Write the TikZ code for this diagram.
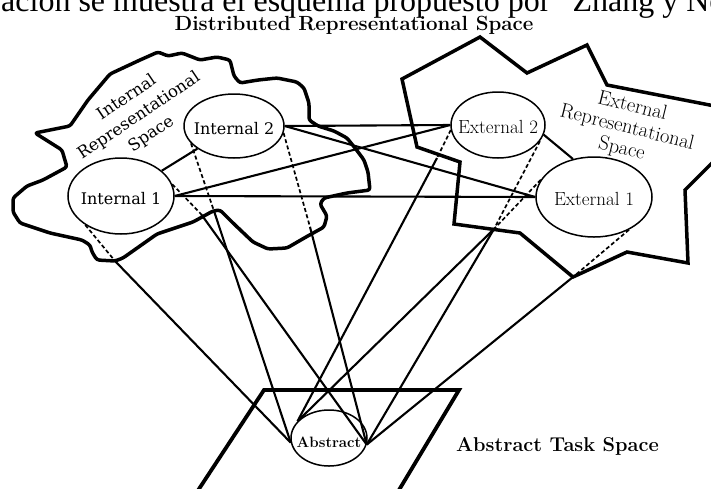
\documentclass[tikz,border=0pt]{standalone}
\usepackage{fontspec}
\newfontfamily\slabfont{DejaVu Serif}
\newfontfamily\timesfont{Liberation Serif}
\usetikzlibrary{shapes.geometric}
\begin{document}
\begin{tikzpicture}[x=1pt,y=-1pt,
  ell/.style={draw, ellipse, fill=white, inner sep=0pt, line width=1.5pt},
  conn/.style={line width=2.1pt},
  dsh/.style={line width=1.7pt, dash pattern=on 4pt off 2.5pt},
  region/.style={line width=3.5pt, line join=round},
  intfont/.style={font=\slabfont\fontsize{16}{16}\selectfont},
  extfont/.style={font=\fontsize{19}{19}\selectfont}]
\useasboundingbox (0,0) rectangle (711,488);

% top cut text line and title
\node[font=\timesfont\fontsize{32}{32}\selectfont, anchor=base west, inner sep=0pt] (topline) at (1,11) {ación se muestra el esquema propuesto por “Zhang y No};
\node[font=\fontsize{20.5}{20.5}\selectfont\bfseries, anchor=base, inner sep=0pt] (title) at (354,30) {Distributed Representational Space};

% internal representational space (blob)
\draw[region, rounded corners=2.5pt] (35,133) -- (70,126) -- (88,100) -- (110,74) -- (140,60) -- (158,52) -- (168,56) -- (182,53) -- (200,60) -- (217,57) -- (230,60) -- (234,76) -- (240,83) -- (258,80) -- (277,78) -- (297,82) -- (304,88) -- (309,103) -- (309,120) -- (318,126) -- (334,131) -- (347,138) -- (355,148) -- (364,160) -- (368,172) -- (370,190) -- (347,193) -- (324,198) -- (320,204) -- (327,216) -- (324,227) -- (306,237) -- (287,248) -- (268,249) -- (253,242) -- (233,223) -- (220,210) -- (213,211) -- (193,222) -- (157,234) -- (123,258) -- (115,261) -- (97,260) -- (92,252) -- (90,245) -- (82,240) -- (50,233) -- (20,223) -- (13,212) -- (13,198) -- (27,186) -- (43,180) -- (67,167) -- (64,157) -- (62,150) -- cycle;

% external representational space (star polygon)
\draw[region, line join=miter] (402,79) -- (480,37) -- (527,73) -- (587,45) -- (607,85) -- (725,108) -- (725,150) -- (685,190) -- (688,263) -- (627,252) -- (573,277) -- (520,233) -- (454,224) -- (460,162) -- (417,147) -- cycle;

% abstract task space (parallelogram)
\draw[line width=3.8pt, line join=miter] (195,495) -- (264,390) -- (459,390) -- (396,495);

% ellipses
\node[ell, minimum width=106pt, minimum height=76pt] (int1) at (121,196) {};
\node[ell, minimum width=100pt, minimum height=64pt] (int2) at (234,126) {};
\node[ell, minimum width=94pt, minimum height=66pt] (ext2) at (498,125) {};
\node[ell, minimum width=116pt, minimum height=80pt] (ext1) at (594,197) {};
\node[ell, minimum width=76pt, minimum height=56pt] (abs) at (329,438) {};

% projection points
\coordinate (p1) at (115,261);
\coordinate (pA) at (201,214);
\coordinate (pB) at (214,211);
\coordinate (pC) at (310,227);
\coordinate (pD) at (437,158);
\coordinate (pE) at (494,229);
\coordinate (pF) at (573,277);

% links between representations
\draw[conn] (int1) -- (int2);
\draw[conn] (int2.east) -- (ext2.west);
\draw[conn] (int2.east) -- (ext1.west);
\draw[conn] (int1.east) -- (ext2.west);
\draw[conn] (int1.east) -- (ext1.west);
\draw[conn] (ext2.348) -- (ext1.119);

% dashed projections
\draw[dsh] (int1.219) -- (p1);
\draw[dsh] (int1.13) -- (pA);
\draw[dsh] (int2.202) -- (pB);
\draw[dsh] (int2.352) -- (pC);
\draw[dsh] (ext2.186) -- (pD);
\draw[dsh] (ext2.339) -- (pE);
\draw[dsh] (ext1.162) -- (pE);
\draw[dsh] (ext1.317) -- (pF);

% lines to abstract
\draw[conn] (p1) -- (abs.187);
\draw[conn] (pA) -- (abs.350);
\draw[conn] (pB) -- (abs.187);
\draw[conn] (pC) -- (abs.350);
\draw[conn] (pD) -- (abs.152);
\draw[conn] (pE) -- (abs.152);
\draw[conn] (pE) -- (abs.350);
\draw[conn] (pF) -- (abs.350);

% texts
\node[intfont] (int1t) at ([yshift=-3pt]int1.center) {Internal 1};
\node[intfont] (int2t) at ([yshift=-3pt]int2.center) {Internal 2};
\node[extfont] (ext2t) at ([yshift=-2pt]ext2.center) {External 2};
\node[extfont] (ext1t) at ([yshift=-2pt]ext1.center) {External 1};
\node[font=\fontsize{15}{15}\selectfont\bfseries] (abst) at ([yshift=-4pt]abs.center) {Abstract};
\node[font=\slabfont\fontsize{16.5}{22}\selectfont, align=center, rotate=34] (intlbl) at (139,116) {Internal\\Representational\\Space};
\node[font=\fontsize{20.5}{22}\selectfont, align=center, rotate=-14] (extlbl) at (627,128) {External\\Representational\\Space};
\node[font=\fontsize{20}{20}\selectfont\bfseries, anchor=base west, inner sep=0pt] (tasklbl) at (456,451) {Abstract Task Space};
\end{tikzpicture}
\end{document}
